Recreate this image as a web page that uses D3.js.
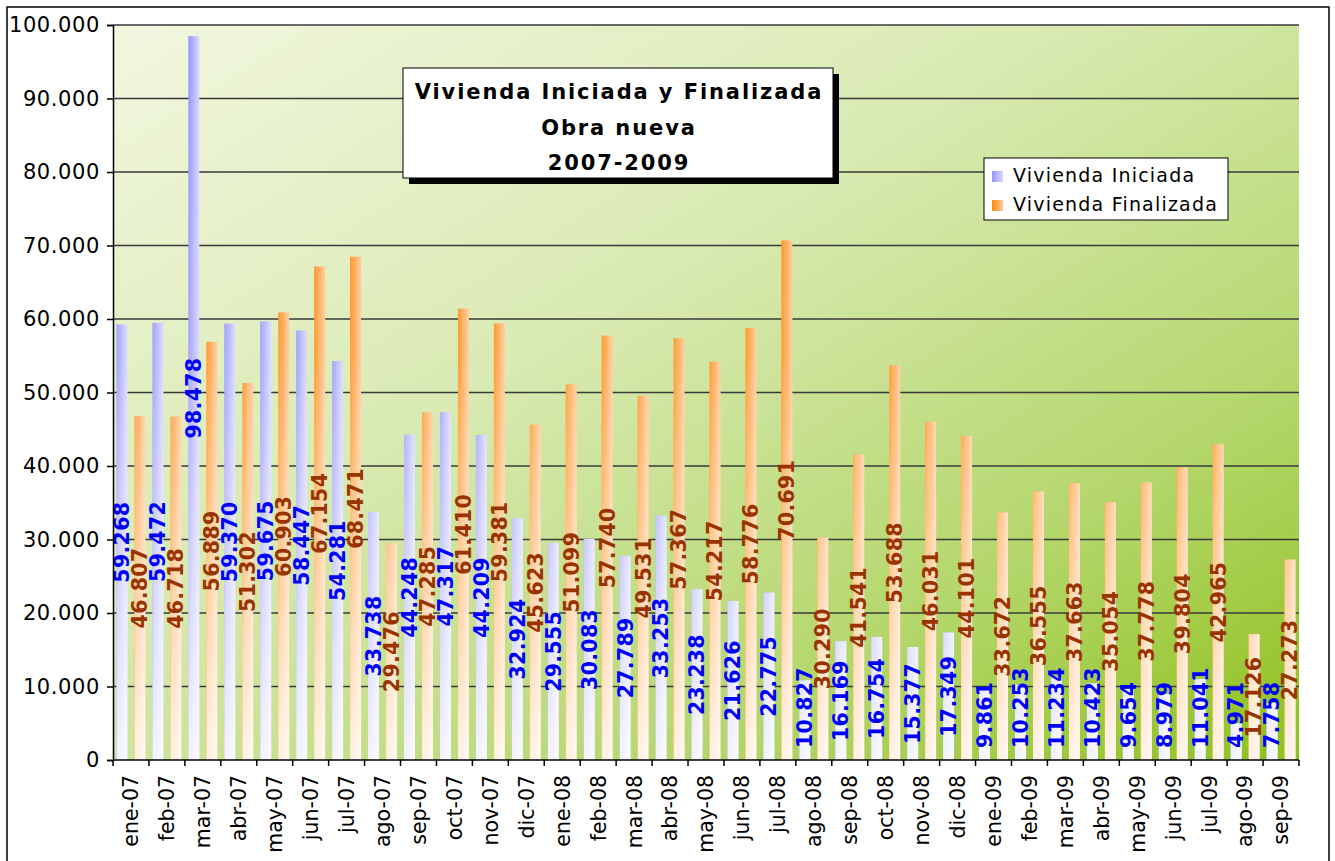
<!DOCTYPE html>
<html>
<head>
<meta charset="utf-8">
<script src="https://cdn.jsdelivr.net/npm/d3@7"></script>
<style>
  body { margin: 0; background: #fff; }
  text { font-family: "DejaVu Sans", Verdana, sans-serif; }
</style>
</head>
<body>
<div id="chart"></div>
<script>
// months on the x axis
const months = ["ene-07","feb-07","mar-07","abr-07","may-07","jun-07","jul-07","ago-07","sep-07","oct-07","nov-07","dic-07",
                "ene-08","feb-08","mar-08","abr-08","may-08","jun-08","jul-08","ago-08","sep-08","oct-08","nov-08","dic-08",
                "ene-09","feb-09","mar-09","abr-09","may-09","jun-09","jul-09","ago-09","sep-09"];

const iniciada = [59268,59472,98478,59370,59675,58447,54281,33738,44248,47317,44209,32924,
                  29555,30083,27789,33253,23238,21626,22775,10827,16169,16754,15377,17349,
                  9861,10253,11234,10423,9654,8979,11041,4971,7758];

const finalizada = [46807,46718,56889,51302,60903,67154,68471,29476,47285,61410,59381,45623,
                    51099,57740,49531,57367,54217,58776,70691,30290,41541,53688,46031,44101,
                    33672,36555,37663,35054,37778,39804,42965,17126,27273];

const seriesNames = ["Vivienda Iniciada","Vivienda Finalizada"];
const titleLines = ["Vivienda Iniciada y Finalizada","Obra nueva","2007-2009"];
const yTicks = [0,10000,20000,30000,40000,50000,60000,70000,80000,90000,100000];

//------------------------1. PREPARATION------------------------//
const width = 1335;
const height = 861;
const plot = {left: 113, right: 1299, top: 25, bottom: 760};

const svg = d3.select("#chart")
    .append("svg")
    .attr("width", width)
    .attr("height", height);

const es = d3.formatLocale({decimal: ",", thousands: ".", grouping: [3], currency: ["", ""]});
const fmt = es.format(",.0f");

//----------------------------GRADIENTS-------------------------//
const defs = svg.append("defs");

function hGrad(id, c0, c1){
    const g = defs.append("linearGradient").attr("id", id)
        .attr("x1", 0).attr("y1", 0).attr("x2", 1).attr("y2", 0);
    g.append("stop").attr("offset", 0).attr("stop-color", c0);
    g.append("stop").attr("offset", 1).attr("stop-color", c1);
}
hGrad("gIni", "#9494ff", "#d8d8ff");
hGrad("gFin", "#ff8a10", "#ffc896");

// white fade towards the bottom of the plot
const fade = defs.append("linearGradient").attr("id", "gFade")
    .attr("gradientUnits", "userSpaceOnUse")
    .attr("x1", 0).attr("y1", plot.top).attr("x2", 0).attr("y2", plot.bottom);
fade.append("stop").attr("offset", 0).attr("stop-color", "#fff").attr("stop-opacity", 0);
fade.append("stop").attr("offset", 0.45).attr("stop-color", "#fff").attr("stop-opacity", 0.15);
fade.append("stop").attr("offset", 1).attr("stop-color", "#fff").attr("stop-opacity", 0.88);

const bg = defs.append("linearGradient").attr("id", "gBg")
    .attr("x1", 0).attr("y1", 0).attr("x2", 1).attr("y2", 1);
bg.append("stop").attr("offset", 0).attr("stop-color", "#f2f7e0");
bg.append("stop").attr("offset", 0.4).attr("stop-color", "#d9eab2");
bg.append("stop").attr("offset", 0.75).attr("stop-color", "#b3d66a");
bg.append("stop").attr("offset", 1).attr("stop-color", "#8fc01c");

//-----------------------------SCALES---------------------------//
const xScale = d3.scaleBand().domain(months).range([plot.left, plot.right]);
const xSub = d3.scaleBand().domain(seriesNames).range([0, xScale.bandwidth()])
    .paddingInner(0.389).paddingOuter(0.193);
const yScale = d3.scaleLinear().domain([0, 100000]).range([plot.bottom, plot.top]);

//-------------------------2. DRAWING---------------------------//
// outer frame
svg.append("rect")
    .attr("x", 7).attr("y", 7).attr("width", 1322).attr("height", 880)
    .attr("fill", "#fff").attr("stroke", "#000").attr("stroke-width", 1.5);

svg.append("rect")
    .attr("x", plot.left).attr("y", plot.top)
    .attr("width", plot.right - plot.left).attr("height", plot.bottom - plot.top)
    .attr("fill", "url(#gBg)");

// gridlines
svg.append("g")
    .selectAll("line")
    .data(yTicks.slice(1))
    .enter()
    .append("line")
    .attr("x1", plot.left).attr("x2", plot.right)
    .attr("y1", d => yScale(d)).attr("y2", d => yScale(d))
    .attr("stroke", "#3a3a3a").attr("stroke-width", 1.5);

//-----------------------------BARS-----------------------------//
const rows = months.map((m, i) => ({month: m, vals: [
    {key: seriesNames[0], v: iniciada[i], fill: "url(#gIni)", color: "#0000ff"},
    {key: seriesNames[1], v: finalizada[i], fill: "url(#gFin)", color: "#993300"}
]}));

const groups = svg.selectAll(".month")
    .data(rows)
    .enter()
    .append("g")
    .attr("class", "month")
    .attr("transform", d => "translate(" + xScale(d.month) + ",0)");

const bars = groups.selectAll(".bar")
    .data(d => d.vals)
    .enter()
    .append("g")
    .attr("class", "bar");

bars.append("rect")
    .attr("x", d => xSub(d.key))
    .attr("y", d => yScale(d.v))
    .attr("width", xSub.bandwidth())
    .attr("height", d => plot.bottom - yScale(d.v))
    .attr("fill", d => d.fill);

bars.append("rect")
    .attr("x", d => xSub(d.key))
    .attr("y", d => yScale(d.v))
    .attr("width", xSub.bandwidth())
    .attr("height", d => plot.bottom - yScale(d.v))
    .attr("fill", "url(#gFade)");

//----------------------------LABELS----------------------------//
bars.append("text")
    .text(d => fmt(d.v))
    .attr("fill", d => d.color)
    .attr("font-size", 20.5)
    .attr("font-weight", "bold")
    .attr("letter-spacing", 0.3)
    .attr("text-anchor", "middle")
    .attr("dy", "0.36em")
    .each(function(d){
        const len = this.getComputedTextLength();
        const cx = xSub(d.key) + xSub.bandwidth() / 2;
        let cy = (yScale(d.v) + plot.bottom) / 2;
        cy = Math.min(cy, 748 - len / 2);
        d3.select(this).attr("transform", "translate(" + cx + "," + cy + ") rotate(-90)");
    });

//-----------------------------AXES-----------------------------//
const yaxis = d3.axisLeft(yScale)
    .tickValues(yTicks)
    .tickSize(6)
    .tickPadding(7)
    .tickFormat(fmt);

const ya = svg.append("g")
    .attr("transform", "translate(" + plot.left + ",0)")
    .call(yaxis);
ya.select(".domain").attr("stroke", "#000").attr("stroke-width", 1.5);
ya.selectAll(".tick line").attr("stroke", "#000").attr("stroke-width", 1.5);
ya.selectAll("text").attr("font-size", 21).attr("fill", "#000")
    .attr("letter-spacing", 0.6)
    .style("font-family", "'DejaVu Sans', Verdana, sans-serif");

const xaxis = d3.axisBottom(xScale).tickSize(0).tickPadding(0);
const xa = svg.append("g")
    .attr("transform", "translate(0," + plot.bottom + ")")
    .call(xaxis);
xa.select(".domain").remove();
xa.selectAll("text")
    .attr("font-size", 20.5).attr("fill", "#000")
    .style("font-family", "'DejaVu Sans', Verdana, sans-serif")
    .attr("x", -15)
    .attr("y", 0)
    .attr("dy", "0.36em")
    .attr("transform", "rotate(-90)")
    .style("text-anchor", "end");

svg.append("line")
    .attr("x1", plot.left).attr("x2", plot.right)
    .attr("y1", plot.bottom).attr("y2", plot.bottom)
    .attr("stroke", "#000").attr("stroke-width", 1.5);

svg.append("g")
    .selectAll("line")
    .data(months.map(m => xScale(m)).concat([plot.right]))
    .enter()
    .append("line")
    .attr("x1", d => d).attr("x2", d => d)
    .attr("y1", plot.bottom).attr("y2", plot.bottom + 6)
    .attr("stroke", "#000").attr("stroke-width", 1.5);

//-----------------------------TITLE----------------------------//
svg.append("rect")
    .attr("x", 409).attr("y", 74).attr("width", 430).attr("height", 110)
    .attr("fill", "#000");
svg.append("rect")
    .attr("x", 403).attr("y", 68).attr("width", 430).attr("height", 110)
    .attr("fill", "#fff").attr("stroke", "#000").attr("stroke-width", 1);

svg.append("g")
    .selectAll("text")
    .data(titleLines)
    .enter()
    .append("text")
    .attr("x", 619)
    .attr("y", (d, i) => 99 + i * 35.5)
    .attr("text-anchor", "middle")
    .attr("font-size", 21)
    .attr("font-weight", "bold")
    .attr("letter-spacing", 1.9)
    .text(d => d);

//-----------------------------LEGEND---------------------------//
svg.append("rect")
    .attr("x", 984).attr("y", 158).attr("width", 244).attr("height", 62)
    .attr("fill", "#fff").attr("stroke", "#000").attr("stroke-width", 1);

const legend = svg.append("g")
    .selectAll("g")
    .data(seriesNames)
    .enter()
    .append("g")
    .attr("transform", (d, i) => "translate(992," + (171 + i * 29) + ")");

legend.append("rect")
    .attr("width", 11).attr("height", 11)
    .attr("fill", (d, i) => i === 0 ? "url(#gIni)" : "url(#gFin)");

legend.append("text")
    .attr("x", 21).attr("y", 11)
    .attr("font-size", 19)
    .attr("letter-spacing", 1.2)
    .text(d => d);
</script>
</body>
</html>
